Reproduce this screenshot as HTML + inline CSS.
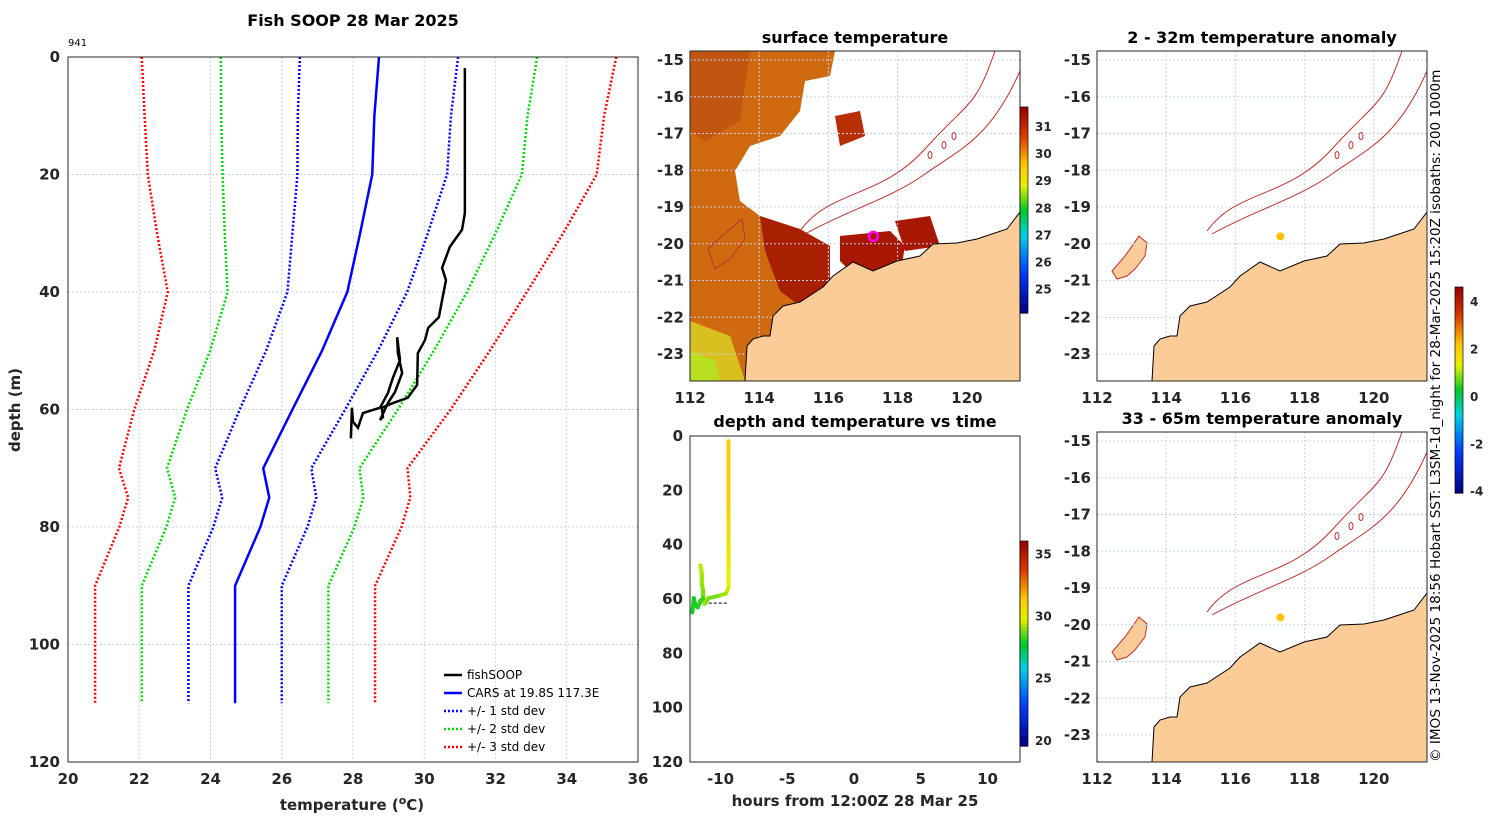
<!DOCTYPE html>
<html><head><meta charset="utf-8"><style>
body{margin:0;background:#fff;}
svg{display:block;font-family:"DejaVu Sans","Liberation Sans",sans-serif;}
.t{font-weight:bold;font-size:15px;fill:#262626;}
.ttl{font-weight:bold;font-size:16px;fill:#000;}
</style></head><body>
<svg id="fig" width="1500" height="820" viewBox="0 0 1500 820">
<g id="main"></g>
<g id="sst"></g>
<g id="ts"></g>
<g id="an1"></g>
<g id="an2"></g>
<text x="1440" y="762" transform="rotate(-90 1440 762)" font-size="13.6" fill="#000">© IMOS 13-Nov-2025 18:56 Hobart SST: L3SM-1d_night for 28-Mar-2025 15:20Z isobaths: 200  1000m</text>
</svg>
<script>
// ---- data ----
const carsDepth=[0,10,20,30,40,50,60,70,75,80,90,100,110];
const carsMean=[28.73,28.6,28.54,28.2,27.84,27.13,26.3,25.48,25.65,25.4,24.69,24.69,24.69];
const carsStd=[2.22,2.15,2.1,1.9,1.68,1.57,1.48,1.35,1.32,1.32,1.31,1.31,1.31];
const fishTemp=[31.14,31.14,31.06,30.72,30.5,30.61,30.5,30.41,30.11,30.02,29.82,29.8,29.54,29.12,28.81,28.84,28.76,28.98,29.18,29.38,29.26,29.24,29.32,29.12,28.98,28.76,28.28,28.14,28.0,27.97,27.94];
const fishDepth=[1.9,26.6,29.4,32.3,35.9,38,41.4,44.3,46.1,48.2,50.4,55.8,58,58.9,59.7,61.3,61.8,58.9,57,53.8,50.4,47.7,51.6,54.6,57.2,59.7,60.6,63.1,62.1,59.7,64.9];
const fishHours=[-9.4,-9.4,-9.4,-9.4,-9.4,-9.4,-9.4,-9.4,-9.4,-9.4,-9.4,-9.4,-9.6,-10.2,-10.9,-11.1,-11.2,-11.3,-11.3,-11.4,-11.4,-11.5,-11.4,-11.4,-11.3,-11.3,-11.5,-11.7,-11.9,-12.0,-12.1];
const xTicks=[20,22,24,26,28,30,32,34,36];
const yTicks=[0,20,40,60,80,100,120];
const hTicks=[-10,-5,0,5,10];
const lonTicks=[112,114,116,118,120];
const latTicks=[-15,-16,-17,-18,-19,-20,-21,-22,-23];
const sstTicks=[25,26,27,28,29,30,31];
const anTicks=[-4,-2,0,2,4];
const tsTicks=[20,25,30,35];
const shipLon=117.3, shipLat=-19.8;

const NS="http://www.w3.org/2000/svg";
function mk(p,tag,a,txt){const e=document.createElementNS(NS,tag);for(const k in a)e.setAttribute(k,a[k]);if(txt!==undefined)e.textContent=txt;p.appendChild(e);return e;}

// ---- main profile chart ----
const M=document.getElementById('main');
const L=68,R=638,T=57,B=762;
const X=t=>L+(t-20)/16*(R-L), Y=d=>T+d/120*(B-T);
xTicks.forEach(v=>{const g=mk(M,'line',{x1:X(v),x2:X(v),y1:T,y2:B,stroke:'#c8d4ee','stroke-dasharray':'2,2'});
 const t=mk(M,'text',{x:X(v),y:B+22,'text-anchor':'middle',class:'t'},v);});
yTicks.forEach(v=>{mk(M,'line',{x1:L,x2:R,y1:Y(v),y2:Y(v),stroke:'#c8d4ee','stroke-dasharray':'2,2'});
 const t=mk(M,'text',{x:L-8,y:Y(v)+5,'text-anchor':'end',class:'t'},v);});
function pl(p,xs,ys,st){return mk(p,'polyline',Object.assign({points:xs.map((x,i)=>x+','+ys[i]).join(' '),fill:'none'},st));}
const sds=[[3,'#ff0000'],[2,'#00d800'],[1,'#0000ff']];
sds.forEach(([k,c])=>{[1,-1].forEach(s=>{const e=pl(M,carsMean.map((m,i)=>X(m+s*k*carsStd[i])),carsDepth.map(Y),{stroke:c,'stroke-width':2.5,'stroke-dasharray':'2,2'});});});
let e=pl(M,carsMean.map(X),carsDepth.map(Y),{stroke:'#0000ff','stroke-width':2.5});

e=pl(M,fishTemp.map(X),fishDepth.map(Y),{stroke:'#000','stroke-width':2.5});

mk(M,'rect',{x:L,y:T,width:R-L,height:B-T,fill:'none',stroke:'#262626','stroke-width':1});
[[0,'#000',''],[1,'#0000ff',''],[2,'#0000ff','2,2'],[3,'#00d800','2,2'],[4,'#ff0000','2,2']].forEach(([i,c,d])=>{const yy=675+i*18;
 mk(M,'line',{x1:444,x2:462,y1:yy,y2:yy,stroke:c,'stroke-width':2.5,'stroke-dasharray':d});});
['fishSOOP','CARS at 19.8S 117.3E','+/- 1 std dev','+/- 2 std dev','+/- 3 std dev'].forEach((s,i)=>{const t=mk(M,'text',{x:467,y:679+i*18,'font-size':12,fill:'#000'},s);});
let t=mk(M,'text',{x:353,y:26,'text-anchor':'middle',class:'ttl'},'Fish SOOP 28 Mar 2025');
mk(M,'text',{x:68,y:46,'font-size':10,fill:'#000'},'941');
t=mk(M,'text',{x:352,y:810,'text-anchor':'middle',class:'t','font-size':16});t.innerHTML='temperature (<tspan dy="-6" font-size="11">o</tspan><tspan dy="6">C)</tspan>';

t=mk(M,'text',{x:20,y:410,'text-anchor':'middle',class:'t',transform:'rotate(-90 20 410)'},'depth (m)');

// ---- colormap ----
const jet=[[0,[0,0,128]],[0.2,[0,60,255]],[0.38,[0,210,230]],[0.5,[0,200,40]],[0.62,[230,240,0]],[0.72,[255,200,0]],[0.86,[220,60,0]],[1,[150,0,0]]];
function cmap(f){f=Math.max(0,Math.min(1,f));for(let i=1;i<jet.length;i++){if(f<=jet[i][0]){const a=jet[i-1],b=jet[i],u=(f-a[0])/(b[0]-a[0]);return 'rgb('+a[1].map((v,j)=>Math.round(v+u*(b[1][j]-v))).join(',')+')';}}return 'rgb(150,0,0)';}
function cbar(p,x,y0,y1,lo,hi,ticks){for(let i=0;i<60;i++){mk(p,'rect',{x:x,y:y1-(i+1)*(y1-y0)/60,width:8,height:(y1-y0)/60+0.6,fill:cmap((i+0.5)/60)});}
 mk(p,'rect',{x:x,y:y0,width:8,height:y1-y0,fill:'none',stroke:'#000','stroke-width':0.7});
 ticks.forEach(v=>{const yy=y1-(v-lo)/(hi-lo)*(y1-y0);mk(p,'text',{x:x+15,y:yy+5,'font-size':12,'font-weight':'bold',fill:'#262626'},v);});}

// ---- maps ----
const coast=[[1020,213],[1007,230],[977,240],[957,244],[933,245],[920,257],[897,262],[873,272],[853,263],[833,277],[823,288],[800,303],[783,307],[773,317],[770,337],[763,337],[753,340],[747,347],[745,382]];
function mapFrame(p,ox,oy,title,isSST){
 const Lx=690+ox,Rx=1020+ox,Ty=52+oy,By=382+oy;
 const lx=v=>Lx+(v-112)*34.6, ly=v=>61+oy+(-15-v)*36.75;
 mk(p,'rect',{x:Lx,y:Ty,width:330,height:330,fill:'#fff'});
 const cid='c'+ox+'_'+oy;const cp=mk(p,'clipPath',{id:cid});mk(cp,'rect',{x:Lx,y:Ty,width:330,height:330});
 const g=mk(p,'g',{'clip-path':'url(#'+cid+')'});
 const cs=coast.map(([x,y])=>[x+ox,y+oy]);
 if(isSST){
  mk(g,'path',{d:`M${Lx} ${Ty} L${Lx+145} ${Ty} L${Lx+140} ${Ty+25} L${Lx+115} ${Ty+30} L${Lx+110} ${Ty+60} L${Lx+90} ${Ty+85} L${Lx+60} ${Ty+95} L${Lx+45} ${Ty+120} L${Lx+50} ${Ty+150} L${Lx+70} ${Ty+165} L${Lx+100} ${Ty+175} L${Lx+135} ${Ty+195} L${Lx+140} ${Ty+225} L${Lx+55} ${Ty+330} L${Lx} ${Ty+330}Z`,fill:'#d06a10'});
  mk(g,'path',{d:`M${Lx} ${Ty+270} L${Lx+40} ${Ty+285} L${Lx+55} ${Ty+330} L${Lx} ${Ty+330}Z`,fill:'#d8c020'});
  mk(g,'path',{d:`M${Lx} ${Ty+300} L${Lx+25} ${Ty+310} L${Lx+30} ${Ty+330} L${Lx} ${Ty+330}Z`,fill:'#b8e020'});
  mk(g,'path',{d:`M${Lx+70} ${Ty+165} L${Lx+110} ${Ty+178} L${Lx+140} ${Ty+195} L${Lx+140} ${Ty+235} L${Lx+110} ${Ty+255} L${Lx+90} ${Ty+240} L${Lx+75} ${Ty+200}Z`,fill:'#a82000'});
  mk(g,'path',{d:`M${Lx+150} ${Ty+185} L${Lx+200} ${Ty+180} L${Lx+215} ${Ty+195} L${Lx+210} ${Ty+225} L${Lx+165} ${Ty+225} L${Lx+150} ${Ty+210}Z`,fill:'#a81800'});
  mk(g,'path',{d:`M${Lx+205} ${Ty+170} L${Lx+240} ${Ty+165} L${Lx+250} ${Ty+195} L${Lx+215} ${Ty+200}Z`,fill:'#a81800'});
  mk(g,'path',{d:`M${Lx+145} ${Ty+65} L${Lx+170} ${Ty+60} L${Lx+175} ${Ty+85} L${Lx+150} ${Ty+95}Z`,fill:'#b83000'});
  mk(g,'path',{d:`M${Lx} ${Ty} L${Lx+60} ${Ty} L${Lx+50} ${Ty+70} L${Lx+15} ${Ty+90} L${Lx} ${Ty+80}Z`,fill:'#c25510'});
 } else {
  const isl=mk(g,'path',{d:`M${Lx+15} ${Ty+220} L${Lx+28} ${Ty+205} L${Lx+42} ${Ty+185} L${Lx+50} ${Ty+192} L${Lx+48} ${Ty+205} L${Lx+38} ${Ty+218} L${Lx+30} ${Ty+225} L${Lx+20} ${Ty+228}Z`,fill:'#fbcb98',stroke:'#c03030','stroke-width':1});
  
 }
 // grid
 lonTicks.forEach(v=>mk(g,'line',{x1:lx(v),x2:lx(v),y1:Ty,y2:By,stroke:'#c8d4ee','stroke-dasharray':'2,2'}));
 latTicks.forEach(v=>mk(g,'line',{x1:Lx,x2:Rx,y1:ly(v),y2:ly(v),stroke:'#c8d4ee','stroke-dasharray':'2,2'}));
 // land
 const land=mk(g,'path',{d:'M'+cs.map(c=>c.join(' ')).join(' L')+` L${Rx} ${By} L${Rx} ${cs[0][1]}Z`,fill:'#fbcb98',stroke:'#000','stroke-width':1});
 
 // isobaths
 mk(g,'path',{d:`M${800+ox} ${232+oy} C${830+ox} ${190+oy},${880+ox} ${200+oy},${925+ox} ${150+oy} S${975+ox} ${110+oy},${995+ox} ${52+oy}`,fill:'none',stroke:'#c03030','stroke-width':1});
 mk(g,'path',{d:`M${805+ox} ${235+oy} C${850+ox} ${210+oy},${890+ox} ${200+oy},${925+ox} ${175+oy} S${990+ox} ${140+oy},${1020+ox} ${72+oy}`,fill:'none',stroke:'#c03030','stroke-width':1});
 [[930,156],[944,146],[954,137]].forEach(([a,b])=>mk(g,'ellipse',{cx:a+ox,cy:b+oy,rx:2,ry:3.5,fill:'none',stroke:'#c03030','stroke-width':1}));
 if(isSST) mk(g,'path',{d:`M${715+ox} ${270+oy} L${708+ox} ${250+oy} L${722+ox} ${237+oy} L${742+ox} ${220+oy} L${745+ox} ${240+oy} L${730+ox} ${260+oy}Z`,fill:'none',stroke:'#c03030','stroke-width':1});
 // ticks
 mk(p,'rect',{x:Lx,y:Ty,width:330,height:330,fill:'none',stroke:'#262626'});
 lonTicks.forEach(v=>{const t=mk(p,'text',{x:lx(v),y:By+22,'text-anchor':'middle',class:'t'},v);});
 latTicks.forEach(v=>{const t=mk(p,'text',{x:Lx-6,y:ly(v)+5,'text-anchor':'end',class:'t'},v);});
 const tt=mk(p,'text',{x:(Lx+Rx)/2,y:Ty-8,'text-anchor':'middle',class:'ttl'},title);
 return {lx,ly};
}
const S=document.getElementById('sst');
let m=mapFrame(S,0,-1,'surface temperature',true);
e=mk(S,'circle',{cx:m.lx(shipLon),cy:m.ly(shipLat),r:4.5,fill:'none',stroke:'#ff00ff','stroke-width':2.5});

cbar(S,1020,107,313,24.1,31.7,sstTicks);
const A1=document.getElementById('an1');
m=mapFrame(A1,407,-1,'2 - 32m temperature anomaly',false);
e=mk(A1,'circle',{cx:m.lx(shipLon),cy:m.ly(shipLat),r:4,fill:'#ffc000'});
const A2=document.getElementById('an2');
m=mapFrame(A2,407,380,'33 - 65m temperature anomaly',false);
e=mk(A2,'circle',{cx:m.lx(shipLon),cy:m.ly(shipLat),r:4,fill:'#ffc000'});
cbar(A1,1455,287,493,-4.1,4.6,anTicks);

// ---- depth vs time ----
const TS=document.getElementById('ts');
const hx=h=>854+h*13.35, dy=d=>436+d/120*326;
mk(TS,'rect',{x:690,y:436,width:330,height:326,fill:'none',stroke:'#262626'});
hTicks.forEach(v=>{const t=mk(TS,'text',{x:hx(v),y:784,'text-anchor':'middle',class:'t'},v);});
yTicks.forEach(v=>{const t=mk(TS,'text',{x:683,y:dy(v)+5,'text-anchor':'end',class:'t'},v);});
mk(TS,'line',{x1:hx(-12),x2:hx(-9.4),y1:dy(61.5),y2:dy(61.5),stroke:'#000','stroke-dasharray':'3,2','stroke-width':1});
fishHours.forEach((h,i)=>{if(i>0){const l=mk(TS,'line',{x1:hx(fishHours[i-1]),y1:dy(fishDepth[i-1]),x2:hx(h),y2:dy(fishDepth[i]),stroke:cmap((fishTemp[i]-19.5)/16.5),'stroke-width':4,'stroke-linecap':'round'});}});
t=mk(TS,'text',{x:855,y:427,'text-anchor':'middle',class:'ttl'},'depth and temperature vs time');
t=mk(TS,'text',{x:855,y:806,'text-anchor':'middle',class:'t','font-size':16},'hours from 12:00Z 28 Mar 25');
cbar(TS,1020,541,746,19.5,36,tsTicks);
</script>
</body></html>
